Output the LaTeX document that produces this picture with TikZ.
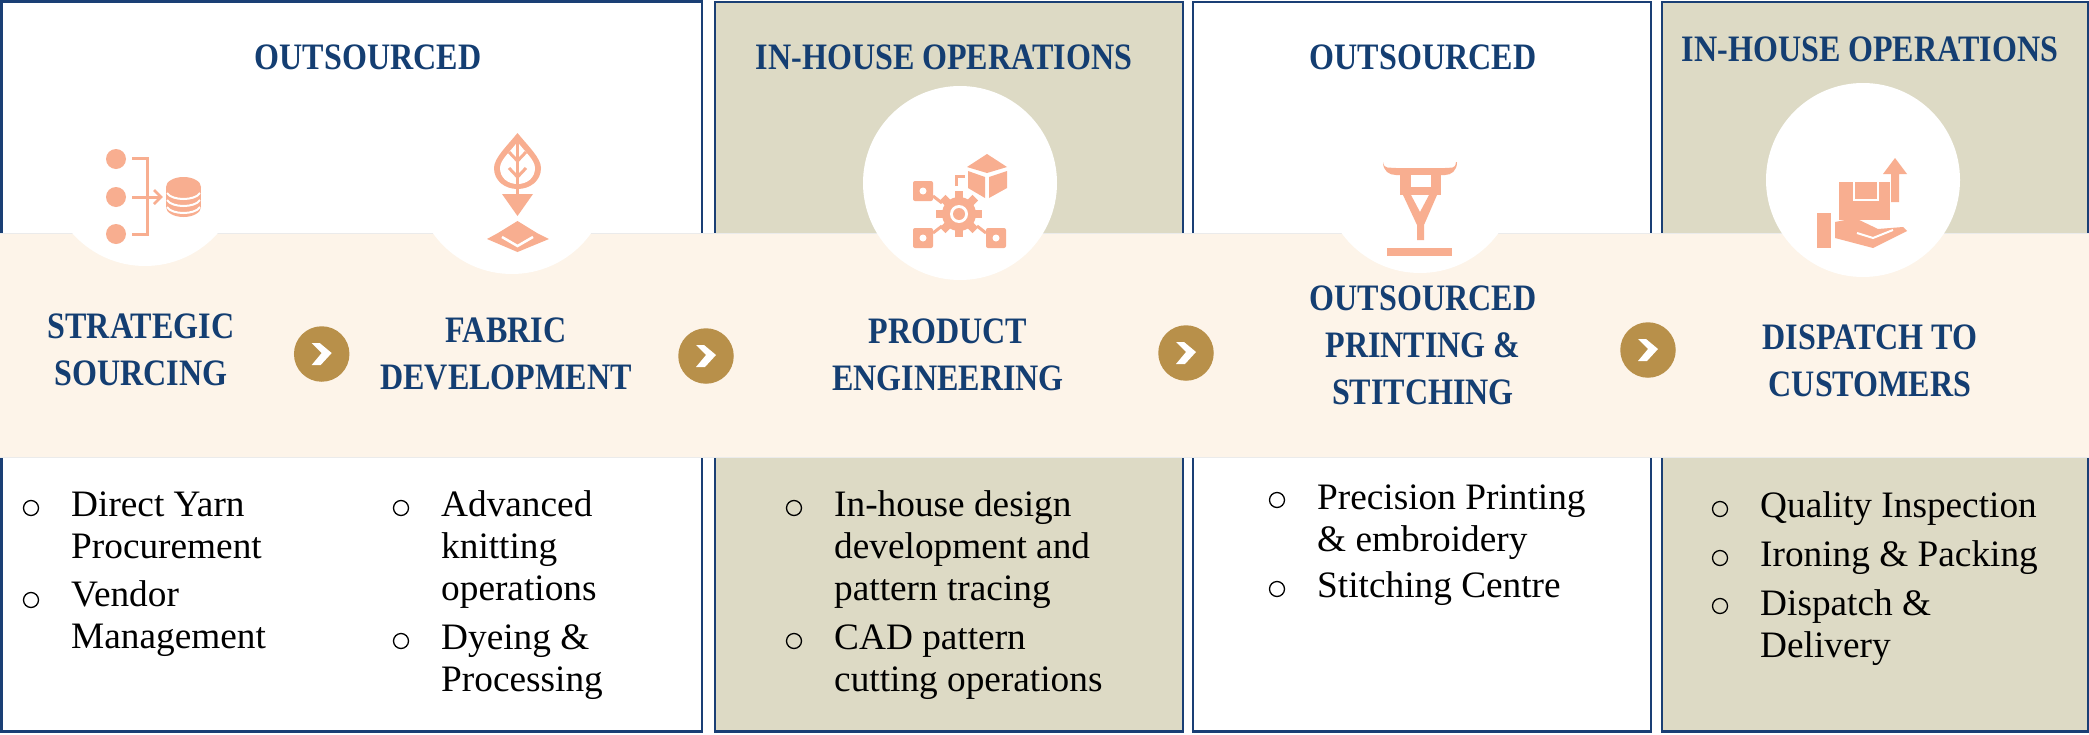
\documentclass[tikz,border=0pt]{standalone}
\usepackage{fontspec}
\setmainfont{Liberation Serif}
\newfontfamily\ttlfont[FakeStretch=0.86]{Liberation Serif Bold}
\definecolor{navy}{HTML}{143E72}
\definecolor{edgeblue}{HTML}{1A3F75}
\definecolor{olive}{HTML}{DDDAC5}
\definecolor{bandc}{HTML}{FDF4E9}
\definecolor{peach}{HTML}{F8AE90}
\definecolor{gold}{HTML}{B8904A}
\tikzset{
 panelw/.style={draw=edgeblue,line width=2.5pt,fill=white},
 panelo/.style={draw=edgeblue,line width=2.5pt,fill=olive},
 head/.style={font=\ttlfont\fontsize{37.3}{47}\selectfont,text=navy,anchor=base,inner sep=0pt,align=center},
 item/.style={font=\fontsize{37.3}{42}\selectfont,text=black,anchor=base west,inner sep=0pt,align=left},
 bull/.style={circle,draw=black,line width=1.3pt,minimum size=15pt,inner sep=0pt},
 gocirc/.style={circle,fill=gold,minimum size=55.5pt,inner sep=0pt},
 chev/.style={fill=white,draw=none},
 ic/.style={fill=peach,draw=none},
 icl/.style={draw=peach,line width=3pt},
 wcut/.style={fill=white,draw=none},
 wline/.style={draw=white,line width=2pt}
}
\begin{document}
\begin{tikzpicture}[x=1pt,y=-1pt]
\useasboundingbox (0,0) rectangle (2089,734);
\fill[white] (0,0) rectangle (2089,734);
% panels
\draw[panelw] (1.5,1.5) rectangle (702,731.5);
\draw[panelo] (715,2) rectangle (1183,731.5);
\draw[panelw] (1193,2) rectangle (1651,731.5);
\draw[panelo] (1662,2) rectangle (2088,731.5);
% band
\fill[bandc] (0,233) rectangle (2089,457);
\draw[draw=black!8,line width=1pt] (0,233) -- (2089,233) (0,457) -- (2089,457);
% round backs
\fill[white] (145,169) circle[radius=97];
\fill[white] (512,177) circle[radius=97];
\fill[white] (960,183) circle[radius=97];
\fill[white] (1420,176) circle[radius=97];
\fill[white] (1863,180) circle[radius=97];
% icon 1
\fill[ic] (116,159) circle[radius=10] (116,197) circle[radius=10] (116,234) circle[radius=10];
\draw[icl] (132,158) -- (147,158) -- (147,234.5) -- (132,234.5);
\draw[icl] (132,197) -- (160,197);
\draw[icl,line width=2.5pt] (154,190) -- (161,197) -- (154,204);
\fill[ic] (183.5,187) circle[x radius=17.5,y radius=10];
\fill[ic] (183.5,207) circle[x radius=17.5,y radius=10];
\fill[ic] (166,187) rectangle (201,207);
\draw[wline] (167,193) .. controls (172,201) and (195,201) .. (200,193);
\draw[wline] (167,200) .. controls (172,208) and (195,208) .. (200,200);
\draw[wline] (167,207) .. controls (172,215) and (195,215) .. (200,207);
% icon 2
\fill[ic] (517.5,133) .. controls (528,146) and (541,158) .. (541,168) .. controls (541,181) and (530,189) .. (517.5,189) .. controls (505,189) and (494,181) .. (494,168) .. controls (494,158) and (507,146) .. (517.5,133) -- cycle;
\fill[wcut] (517.5,142) .. controls (525,152) and (535,160) .. (535,168) .. controls (535,178) and (527,184) .. (517.5,184) .. controls (508,184) and (500,178) .. (500,168) .. controls (500,160) and (510,152) .. (517.5,142) -- cycle;
\draw[icl,line width=3.5pt] (517.5,140) -- (517.5,196);
\draw[icl,line width=3pt] (509,152) -- (517.5,161) -- (526,152) (509,168) -- (517.5,177) -- (526,168);
\fill[ic] (502,194) -- (533,194) -- (517.5,216) -- cycle;
\fill[ic] (517.5,221) -- (537,233) -- (549,239) -- (517.5,252) -- (487,239) -- (498,233) -- cycle;
\draw[wline,line width=2.5pt] (502,237) -- (517.5,246) -- (533,237);
% icon 3
\fill[ic] (987,154) -- (1007,167) -- (987,173) -- (967,167) -- cycle;
\fill[ic] (968,171) -- (985,177) -- (985,198) -- (968,188) -- cycle;
\fill[ic] (989,177) -- (1007,171) -- (1007,188) -- (989,198) -- cycle;
\draw[icl] (956,186) -- (956,176) -- (965,176);
\fill[ic,rounded corners=2pt] (913,181) rectangle (933,201);
\fill[ic,rounded corners=2pt] (913,228) rectangle (933,248);
\fill[ic,rounded corners=2pt] (986,228) rectangle (1006,248);
\fill[wcut] (923,191) circle[radius=3.5] (923,238) circle[radius=3.5] (996,238) circle[radius=3.5];
\draw[icl] (933,196) -- (942,203) (933,233) -- (942,226) (986,233) -- (977,226);
\fill[ic] (959,214) circle[radius=17];
\foreach \a in {0,45,...,315}{\fill[ic] (959,214) ++(\a:14) ++(\a+90:4) -- ++(\a:9) -- ++(\a-90:8) -- ++(\a+180:9) -- cycle;}
\fill[wcut] (959,214) circle[radius=9];
\fill[ic] (959,214) circle[radius=6];
% icon 4
\fill[ic] (1383,162) .. controls (1384,170) and (1390,167) .. (1396,168) -- (1445,168) .. controls (1451,167) and (1455,170) .. (1456,162) -- (1457,162) .. controls (1457,171) and (1451,175) .. (1445,175) -- (1396,175) .. controls (1389,175) and (1383,171) .. (1383,162) -- cycle;
\fill[ic] (1400,174) -- (1441,174) -- (1441,195) -- (1400,195) -- cycle;
\fill[wcut] (1411,175) -- (1431,175) -- (1431,187) -- (1411,187) -- cycle;
\fill[ic] (1403,195) -- (1411,195) -- (1420,212) -- (1429,195) -- (1437,195) -- (1424,225) -- (1424,240) -- (1417,240) -- (1417,225) -- cycle;
\fill[ic] (1387,248) rectangle (1452,256);
% icon 5
\fill[ic] (1895,158) -- (1907,174) -- (1899,174) -- (1899,202) -- (1891,202) -- (1891,174) -- (1883,174) -- cycle;
\fill[ic] (1839,182) rectangle (1890,228);
\draw[wline] (1854,182) -- (1854,200) -- (1878,200) -- (1878,182);
\fill[ic] (1817,213) rectangle (1831,248);
\fill[white] (1833,220) rectangle (1892,240);
\fill[ic] (1835,222) -- (1855,218) -- (1878,229) -- (1903,227) -- (1907,231) -- (1873,248) -- (1835,238) -- cycle;
\draw[wline] (1857,233) -- (1873,238) -- (1893,230);
% gold arrows
\node[gocirc] (g1) at (321.7,354) {};
\node[gocirc] (g2) at (706,356) {};
\node[gocirc] (g3) at (1186,353) {};
\node[gocirc] (g4) at (1648,350) {};
\foreach \g in {g1,g2,g3,g4}{\fill[chev] ([shift={(-10,-11)}]\g.center) -- ([shift={(-2,-11)}]\g.center) -- ([shift={(10,-1)}]\g.center) -- ([shift={(-1,11)}]\g.center) -- ([shift={(-10,11)}]\g.center) -- ([shift={(0,-1)}]\g.center) -- cycle;}
% top heads
\node[head] (t1) at (368,69) {OUTSOURCED};
\node[head] (t2) at (944,69) {IN-HOUSE OPERATIONS};
\node[head] (t3) at (1423,69) {OUTSOURCED};
\node[head] (t4) at (1870,61) {IN-HOUSE OPERATIONS};
% band heads
\node[head] (b1) at (141,385) {STRATEGIC\\SOURCING};
\node[head] (b2) at (506,389) {FABRIC\\DEVELOPMENT};
\node[head] (b3) at (948,390) {PRODUCT\\ENGINEERING};
\node[head] (b4) at (1423,404) {OUTSOURCED\\PRINTING \&\\STITCHING};
\node[head] (b5) at (1870,396) {DISPATCH TO\\CUSTOMERS};
% lists
\node[bull] (p1) at (31,508) {};
\node[item] (i1) at (71,558) {Direct Yarn\\Procurement};
\node[bull] (p2) at (31,600) {};
\node[item] (i2) at (71,648) {Vendor\\Management};
\node[bull] (p3) at (401,508) {};
\node[item] (i3) at (441,600) {Advanced\\knitting\\operations};
\node[bull] (p4) at (401,641) {};
\node[item] (i4) at (441,691) {Dyeing \&\\Processing};
\node[bull] (p5) at (794,508) {};
\node[item] (i5) at (834,600) {In-house design\\development and\\pattern tracing};
\node[bull] (p6) at (794,641) {};
\node[item] (i6) at (834,691) {CAD pattern\\cutting operations};
\node[bull] (p7) at (1277,500) {};
\node[item] (i7) at (1317,551) {Precision Printing\\\& embroidery};
\node[bull] (p8) at (1277,589) {};
\node[item] (i8) at (1317,597) {Stitching Centre};
\node[bull] (p9) at (1720,509) {};
\node[item] (i9) at (1760,517) {Quality Inspection};
\node[bull] (p10) at (1720,558) {};
\node[item] (i10) at (1760,566) {Ironing \& Packing};
\node[bull] (p11) at (1720,606) {};
\node[item] (i11) at (1760,657) {Dispatch \&\\Delivery};
\end{tikzpicture}
\end{document}
